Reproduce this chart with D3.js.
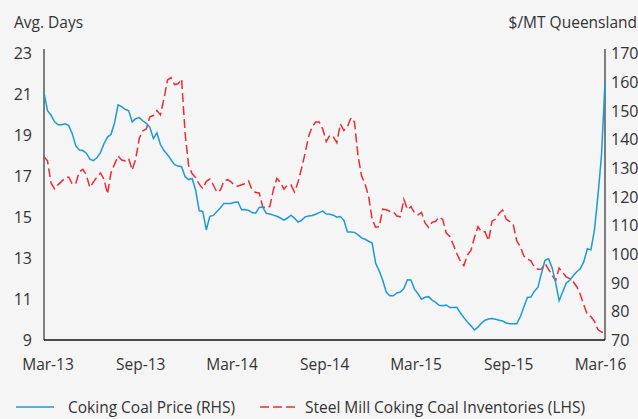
<!DOCTYPE html>
<html>
<head>
<meta charset="utf-8">
<script src="https://cdn.jsdelivr.net/npm/d3@7"></script>
<style>
  body { margin: 0; background: #f5f5f5; }
  svg { display: block; font-family: "Open Sans", "Noto Sans", sans-serif; }
</style>
</head>
<body>
<div id="chart"></div>
<script>
/* DATA */
// weekly observations, Fridays from 22 Feb 2013 to 11 Mar 2016
const weeks = d3.timeFriday.range(new Date(2013, 1, 22), new Date(2016, 2, 12));

// Coking Coal Price, $/MT Queensland (RHS)
const coalPrice = [
  156.1, 149.9, 148.3, 146.0, 145.0, 145.0, 145.3, 144.7, 141.9, 137.7,
  136.2, 136.0, 135.1, 133.0, 132.5, 133.5, 135.3, 138.4, 140.7, 141.7,
  145.7, 151.9, 151.3, 150.4, 149.9, 146.0, 147.1, 147.5, 146.4, 145.5,
  144.1, 140.2, 142.2, 138.1, 136.0, 134.6, 132.8, 131.1, 130.6, 130.4,
  126.9, 125.9, 126.3, 122.1, 115.0, 114.8, 108.4, 113.1, 113.4, 114.8,
  116.1, 117.6, 117.6, 117.6, 118.0, 118.1, 115.4, 115.5, 115.1, 114.4,
  114.2, 116.2, 116.3, 114.1, 113.9, 113.5, 113.1, 112.5, 111.8, 112.5,
  113.5, 112.4, 111.1, 111.7, 112.9, 113.2, 113.4, 113.8, 114.4, 114.9,
  113.9, 113.8, 113.5, 112.8, 113.0, 111.7, 107.6, 107.6, 107.5, 106.6,
  105.6, 105.1, 104.4, 103.8, 96.7, 94.1, 90.8, 86.7, 85.4, 85.4,
  86.4, 86.7, 87.9, 91.0, 90.9, 87.7, 86.1, 84.2, 84.9, 85.1,
  83.9, 83.1, 82.1, 81.9, 82.2, 81.3, 81.3, 81.4, 79.5, 77.8,
  76.3, 75.0, 73.5, 74.5, 75.9, 76.9, 77.3, 77.5, 77.2, 76.9,
  76.6, 75.9, 75.7, 75.7, 75.7, 78.1, 81.5, 84.8, 85.0, 87.0,
  88.4, 93.3, 97.8, 98.3, 95.2, 90.0, 83.7, 86.7, 89.8, 90.8,
  92.4, 93.8, 94.8, 97.3, 101.8, 101.4, 108.2, 120.3, 134.2, 159.8
];

// Steel Mill Coking Coal Inventories, avg. days (LHS)
const inventories = [
  17.94, 17.74, 16.66, 16.37, 16.58, 16.74, 16.90, 16.95, 16.61, 16.64,
  17.20, 17.33, 17.05, 16.44, 16.70, 16.95, 17.15, 16.85, 16.12, 17.17,
  17.58, 17.98, 17.78, 17.74, 17.85, 17.29, 17.83, 18.84, 19.20, 19.29,
  19.89, 19.95, 20.19, 19.98, 20.77, 21.68, 21.80, 21.46, 21.50, 21.73,
  19.05, 17.50, 17.11, 16.92, 16.60, 16.38, 16.74, 16.85, 16.56, 16.21,
  16.32, 16.76, 16.82, 16.71, 16.55, 16.50, 16.57, 16.62, 16.76, 16.31,
  16.19, 16.17, 15.49, 15.44, 15.51, 16.32, 16.89, 16.68, 16.36, 16.56,
  16.57, 16.22, 16.71, 17.37, 18.12, 18.93, 19.40, 19.63, 19.63, 19.29,
  18.68, 18.98, 18.91, 18.63, 19.54, 19.22, 19.39, 19.84, 19.62, 17.99,
  17.01, 16.61, 16.01, 14.88, 14.50, 14.52, 15.38, 15.35, 15.28, 15.26,
  15.05, 15.01, 15.86, 15.36, 15.50, 15.20, 15.10, 15.22, 14.71, 14.49,
  14.74, 14.79, 15.00, 14.88, 14.22, 14.05, 13.66, 13.22, 12.85, 12.63,
  13.15, 13.37, 14.00, 14.53, 14.27, 14.28, 13.85, 14.80, 14.90, 15.17,
  15.34, 14.90, 14.78, 14.62, 13.83, 13.56, 13.10, 12.95, 12.86, 12.55,
  12.45, 12.46, 12.74, 12.45, 12.17, 11.89, 12.51, 12.29, 12.08, 11.99,
  11.84, 11.60, 11.22, 10.71, 10.24, 10.14, 9.91, 9.51, 9.39, 9.36
];

const leftTicks = [9, 11, 13, 15, 17, 19, 21, 23];
const rightTicks = [70, 80, 90, 100, 110, 120, 130, 140, 150, 160, 170];
const xTickDates = [
  new Date(2013, 2, 1), new Date(2013, 8, 1), new Date(2014, 2, 1),
  new Date(2014, 8, 1), new Date(2015, 2, 1), new Date(2015, 8, 1),
  new Date(2016, 2, 1)
];

const legendItems = [
  { name: "Coking Coal Price (RHS)", color: "#1a9bd7", dash: null },
  { name: "Steel Mill Coking Coal Inventories (LHS)", color: "#ee2a33", dash: "9,4" }
];

/* LAYOUT */
const width = 638, height = 419;
const plot = { left: 44, right: 605, top: 53, bottom: 340 };
const textColor = "#333";
const fontSize = "15.5px";

const svg = d3.select("#chart").append("svg")
  .attr("width", width)
  .attr("height", height);

svg.append("rect").attr("width", width).attr("height", height).attr("fill", "#f5f5f5");

const x = d3.scaleTime()
  .domain([weeks[0], weeks[weeks.length - 1]])
  .range([plot.left, plot.right]);

const yLeft = d3.scaleLinear().domain([9, 23]).range([plot.bottom, plot.top]);
const yRight = d3.scaleLinear().domain([70, 170]).range([plot.bottom, plot.top]);

// axes (labels only, no tick marks)
const leftAxis = svg.append("g")
  .attr("transform", `translate(${plot.left - 12},0)`)
  .call(d3.axisLeft(yLeft).tickValues(leftTicks).tickSize(0).tickPadding(0));

const rightAxis = svg.append("g")
  .attr("transform", `translate(${plot.right + 6},0)`)
  .call(d3.axisRight(yRight).tickValues(rightTicks).tickSize(0).tickPadding(0));

const bottomAxis = svg.append("g")
  .attr("transform", `translate(0,${plot.bottom + 16})`)
  .call(d3.axisBottom(x).tickValues(xTickDates).tickFormat(d3.timeFormat("%b-%y")).tickSize(0).tickPadding(0));

[leftAxis, rightAxis, bottomAxis].forEach(g => {
  g.select(".domain").remove();
  g.selectAll("text")
    .attr("fill", textColor)
    .style("font-size", "16px")
    .style("font-family", "'Open Sans', 'Noto Sans', sans-serif");
});
leftAxis.selectAll("text").attr("dy", "0.35em");
rightAxis.selectAll("text").attr("dy", "0.35em");
bottomAxis.selectAll("text").attr("dy", "0.9em").style("font-size", fontSize);

// axis lines
svg.append("line")
  .attr("x1", plot.left).attr("x2", plot.left)
  .attr("y1", plot.top - 4).attr("y2", plot.bottom)
  .attr("stroke", "#555").attr("stroke-width", 1.5);
svg.append("line")
  .attr("x1", plot.right).attr("x2", plot.right)
  .attr("y1", plot.top - 4).attr("y2", plot.bottom)
  .attr("stroke", "#555").attr("stroke-width", 1.5);
svg.append("line")
  .attr("x1", plot.left).attr("x2", plot.right)
  .attr("y1", plot.bottom).attr("y2", plot.bottom)
  .attr("stroke", "#111").attr("stroke-width", 1.5);

// series
const priceLine = d3.line()
  .x((d, i) => x(weeks[i]))
  .y(d => yRight(d));
const invLine = d3.line()
  .x((d, i) => x(weeks[i]))
  .y(d => yLeft(d));

svg.append("path")
  .datum(inventories)
  .attr("d", invLine)
  .attr("fill", "none")
  .attr("stroke", legendItems[1].color)
  .attr("stroke-width", 1.5)
  .attr("stroke-dasharray", legendItems[1].dash);

svg.append("path")
  .datum(coalPrice)
  .attr("d", priceLine)
  .attr("fill", "none")
  .attr("stroke", legendItems[0].color)
  .attr("stroke-width", 1.5);

// axis titles
svg.append("text")
  .attr("x", 14).attr("y", 28)
  .attr("fill", textColor)
  .style("font-size", fontSize)
  .text("Avg. Days");

svg.append("text")
  .attr("x", 637).attr("y", 28)
  .attr("text-anchor", "end")
  .attr("fill", textColor)
  .style("font-size", fontSize)
  .text("$/MT Queensland");

// legend
const legendX = [16, 260];
const legendTextX = [52, 45];
const legend = svg.selectAll("g.legend")
  .data(legendItems)
  .join("g")
  .attr("class", "legend")
  .attr("transform", (d, i) => `translate(${legendX[i]},407)`);

legend.append("line")
  .attr("x1", 0).attr("x2", 38)
  .attr("stroke", d => d.color)
  .attr("stroke-width", 1.5)
  .attr("stroke-dasharray", d => d.dash);

legend.append("text")
  .attr("x", (d, i) => legendTextX[i]).attr("y", 6)
  .attr("fill", textColor)
  .style("font-size", fontSize)
  .text(d => d.name);
</script>
</body>
</html>
